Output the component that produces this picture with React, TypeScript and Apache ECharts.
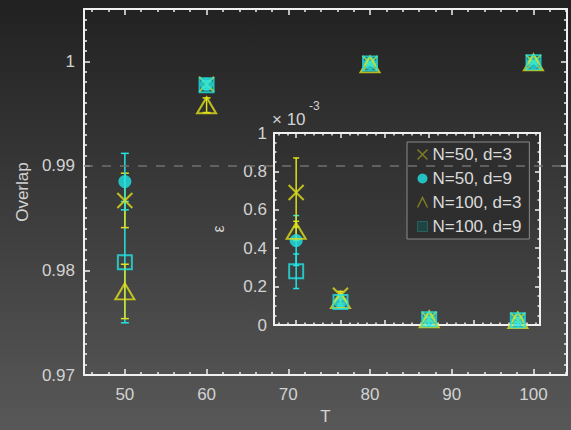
import React, { useEffect, useRef } from 'react';
import * as echarts from 'echarts';

// ---- data ----
const T = [50, 60, 80, 100];
const NAMES = ['N=50, d=3', 'N=50, d=9', 'N=100, d=3', 'N=100, d=9'];

// overlap (main panel)
const overlapN50d3 = [0.9867, 0.9978, 0.9998, 0.9999];
const overlapN50d9 = [0.9885, 0.9978, 0.9998, 0.9999];
const overlapN100d3 = [0.978, 0.9958, 0.9997, 0.9999];
const overlapN100d9 = [0.9808, 0.9977, 0.9998, 0.9999];
const overlapErrN50d3 = [0.0026, 0.0003, 0.0001, 0.0001];
const overlapErrN50d9 = [0.0027, 0.0003, 0.0001, 0.0001];
const overlapErrN100d3 = [0.0026, 0.0007, 0.0001, 0.0001];
const overlapErrN100d9 = [0.0058, 0.0004, 0.0001, 0.0001];

// epsilon, in units of 1e-3 (inset)
const epsN50d3 = [0.69, 0.155, 0.03, 0.025];
const epsN50d9 = [0.44, 0.12, 0.03, 0.025];
const epsN100d3 = [0.49, 0.13, 0.03, 0.025];
const epsN100d9 = [0.28, 0.12, 0.03, 0.025];
const epsErrN50d3 = [0.18, 0.02, 0.01, 0.01];
const epsErrN50d9 = [0.13, 0.02, 0.01, 0.01];
const epsErrN100d3 = [0.05, 0.02, 0.01, 0.01];
const epsErrN100d9 = [0.09, 0.02, 0.01, 0.01];

// tick positions
const mainXMajor = [50, 60, 70, 80, 90, 100];
const mainYMajor = [0.97, 0.98, 0.99, 1];
const insetXMajor = [50, 60, 70, 80, 90, 100];
const insetYMajor = [0, 0.2, 0.4, 0.6, 0.8, 1];

const steps = (from: number, to: number, step: number, skip: number) => {
  const out: number[] = [];
  const n = Math.round((to - from) / step);
  for (let i = 0; i <= n; i++) {
    const v = +(from + i * step).toFixed(6);
    const r = v / skip;
    if (Math.abs(r - Math.round(r)) > 1e-6) out.push(v);
  }
  return out;
};
const mainXMinor = steps(46, 104, 2, 10);
const mainYMinor = steps(0.971, 1.004, 0.001, 0.01);
const insetXMinor = steps(46, 104, 2, 10);
const insetYMinor = steps(0.05, 0.95, 0.05, 0.2);

const YELLOW = '#e0e01c';
const CYAN = '#22e4e4';
const AXIS = '#f0f0f0';
const LABEL = '#d2d2d2';
const FONT = '"Liberation Sans", Arial, sans-serif';

const X_PATH = 'path://M0,0L10,10M10,0L0,10';

type AxisOpts = {
  gridIndex: number;
  position: string;
  min: number;
  max: number;
  ticks: number[];
  len: number;
  line: boolean;
  labels?: boolean;
  formatter?: (v: number) => string;
  margin?: number;
  extra?: Record<string, unknown>;
};

const axis = (o: AxisOpts) => ({
  type: 'value',
  gridIndex: o.gridIndex,
  position: o.position,
  min: o.min,
  max: o.max,
  axisLine: { show: o.line, onZero: false, lineStyle: { color: AXIS, width: 2 } },
  axisTick: {
    show: true,
    inside: true,
    length: o.len,
    customValues: o.ticks,
    lineStyle: { color: AXIS, width: 1.5 },
  },
  axisLabel: {
    show: !!o.labels,
    customValues: o.ticks,
    formatter: o.formatter,
    color: LABEL,
    fontSize: 17,
    fontFamily: FONT,
    margin: o.margin ?? 8,
  },
  splitLine: { show: false },
  ...(o.extra || {}),
});

const errorBars = (
  xAxisIndex: number,
  yAxisIndex: number,
  color: string,
  centers: number[],
  errs: number[],
  cap: number
) => ({
  type: 'custom',
  xAxisIndex,
  yAxisIndex,
  z: 2,
  silent: true,
  data: T.map((t, i) => [t, centers[i] - errs[i], centers[i] + errs[i]]),
  encode: { x: 0, y: [1, 2] },
  renderItem: (_p: unknown, api: any) => {
    const lo = api.coord([api.value(0), api.value(1)]);
    const hi = api.coord([api.value(0), api.value(2)]);
    const style = { stroke: color, lineWidth: 1.5 };
    return {
      type: 'group',
      children: [
        { type: 'line', shape: { x1: lo[0], y1: lo[1], x2: hi[0], y2: hi[1] }, style },
        { type: 'line', shape: { x1: lo[0] - cap, y1: lo[1], x2: lo[0] + cap, y2: lo[1] }, style },
        { type: 'line', shape: { x1: hi[0] - cap, y1: hi[1], x2: hi[0] + cap, y2: hi[1] }, style },
      ],
    };
  },
});

const markers = (
  xAxisIndex: number,
  yAxisIndex: number,
  values: number[][],
  extraFirst?: Record<string, unknown>
) => {
  const styles = [
    { symbol: X_PATH, symbolSize: 15, itemStyle: { color: 'none', borderColor: YELLOW, borderWidth: 2 } },
    { symbol: 'circle', symbolSize: 13, itemStyle: { color: CYAN } },
    { symbol: 'triangle', symbolSize: [19, 16], itemStyle: { color: 'none', borderColor: YELLOW, borderWidth: 2 } },
    { symbol: 'rect', symbolSize: 14, itemStyle: { color: 'none', borderColor: CYAN, borderWidth: 2 } },
  ];
  return values.map((vals, k) => ({
    type: 'scatter',
    name: NAMES[k],
    xAxisIndex,
    yAxisIndex,
    z: 3,
    silent: true,
    data: T.map((t, i) => [t, vals[i]]),
    ...styles[k],
    ...(k === 0 && extraFirst ? extraFirst : {}),
  }));
};

export default function App() {
  const ref = useRef<HTMLDivElement>(null);

  useEffect(() => {
    if (!ref.current) return;
    const chart = echarts.init(ref.current, undefined, { renderer: 'svg' });

    const mainMin = 45;
    const mainMax = 104.1;
    const insetMin = 45;
    const insetMax = 105;

    const option = {
      animation: false,
      backgroundColor: new echarts.graphic.LinearGradient(0, 0, 0, 1, [
        { offset: 0, color: '#212121' },
        { offset: 1, color: '#585858' },
      ]),
      textStyle: { fontFamily: FONT },
      grid: [
        { left: 84, top: 9, width: 483, height: 371, show: false },
        {
          left: 274,
          top: 133,
          width: 266,
          height: 192,
          show: true,
          backgroundColor: 'rgba(0,0,0,0.07)',
          borderWidth: 0,
        },
      ],
      xAxis: [
        axis({
          gridIndex: 0, position: 'bottom', min: mainMin, max: mainMax, ticks: mainXMajor, len: 6,
          line: true, labels: true, margin: 11, formatter: (v: number) => String(v),
          extra: {
            name: 'T', nameLocation: 'middle', nameGap: 31,
            nameTextStyle: { color: LABEL, fontSize: 17, fontFamily: FONT },
          },
        }),
        axis({ gridIndex: 0, position: 'bottom', min: mainMin, max: mainMax, ticks: mainXMinor, len: 3, line: false }),
        axis({ gridIndex: 0, position: 'top', min: mainMin, max: mainMax, ticks: mainXMajor, len: 6, line: true }),
        axis({ gridIndex: 0, position: 'top', min: mainMin, max: mainMax, ticks: mainXMinor, len: 3, line: false }),
        axis({ gridIndex: 1, position: 'bottom', min: insetMin, max: insetMax, ticks: insetXMajor, len: 5, line: true }),
        axis({ gridIndex: 1, position: 'bottom', min: insetMin, max: insetMax, ticks: insetXMinor, len: 2.5, line: false }),
        axis({ gridIndex: 1, position: 'top', min: insetMin, max: insetMax, ticks: insetXMajor, len: 5, line: true }),
        axis({ gridIndex: 1, position: 'top', min: insetMin, max: insetMax, ticks: insetXMinor, len: 2.5, line: false }),
      ],
      yAxis: [
        axis({
          gridIndex: 0, position: 'left', min: 0.97, max: 1.005, ticks: mainYMajor, len: 6,
          line: true, labels: true, margin: 9,
          formatter: (v: number) => (Math.abs(v - 1) < 1e-9 ? '1' : v.toFixed(2)),
          extra: {
            name: 'Overlap', nameLocation: 'middle', nameGap: 53, nameRotate: 90,
            nameTextStyle: { color: LABEL, fontSize: 17, fontFamily: FONT },
          },
        }),
        axis({ gridIndex: 0, position: 'left', min: 0.97, max: 1.005, ticks: mainYMinor, len: 3, line: false }),
        axis({ gridIndex: 0, position: 'right', min: 0.97, max: 1.005, ticks: mainYMajor, len: 6, line: true }),
        axis({ gridIndex: 0, position: 'right', min: 0.97, max: 1.005, ticks: mainYMinor, len: 3, line: false }),
        axis({
          gridIndex: 1, position: 'left', min: 0, max: 1, ticks: insetYMajor, len: 5,
          line: true, labels: true, margin: 7,
          formatter: (v: number) => (v === 0 ? '0' : Math.abs(v - 1) < 1e-9 ? '1' : v.toFixed(1)),
          extra: {
            name: 'ε', nameLocation: 'middle', nameGap: 48, nameRotate: 90,
            nameTextStyle: { color: LABEL, fontSize: 16, fontFamily: FONT },
          },
        }),
        axis({ gridIndex: 1, position: 'left', min: 0, max: 1, ticks: insetYMinor, len: 2.5, line: false }),
        axis({ gridIndex: 1, position: 'right', min: 0, max: 1, ticks: insetYMajor, len: 5, line: true }),
        axis({ gridIndex: 1, position: 'right', min: 0, max: 1, ticks: insetYMinor, len: 2.5, line: false }),
      ],
      legend: {
        orient: 'vertical',
        left: 407,
        top: 142,
        padding: [4, 8, 4, 8],
        itemGap: 7,
        itemWidth: 10,
        itemHeight: 10,
        backgroundColor: 'rgba(46,46,46,0.92)',
        borderColor: '#8a8a8a',
        borderWidth: 1,
        selectedMode: false,
        textStyle: { color: '#dadada', fontSize: 17, fontFamily: FONT },
        data: [
          { name: NAMES[0], icon: X_PATH, itemStyle: { color: 'none', borderColor: '#8e8e22', borderWidth: 1.5 } },
          { name: NAMES[1], icon: 'circle', itemStyle: { color: CYAN, borderWidth: 0 } },
          {
            name: NAMES[2],
            icon: 'path://M0,10L5,0L10,10',
            itemStyle: { color: 'none', borderColor: '#8e8e22', borderWidth: 1.5 },
          },
          { name: NAMES[3], icon: 'rect', itemStyle: { color: '#1c4a4a', borderColor: '#2a6a6a', borderWidth: 1 } },
        ],
      },
      graphic: [
        {
          type: 'text',
          x: 272,
          y: 111,
          style: { text: '× 10', fill: LABEL, fontSize: 17, fontFamily: FONT },
        },
        {
          type: 'text',
          x: 309,
          y: 100,
          style: { text: '-3', fill: LABEL, fontSize: 12, fontFamily: FONT },
        },
      ],
      series: [
        // main panel
        errorBars(0, 0, CYAN, overlapN100d9, overlapErrN100d9, 4),
        errorBars(0, 0, YELLOW, overlapN100d3, overlapErrN100d3, 4),
        errorBars(0, 0, YELLOW, overlapN50d3, overlapErrN50d3, 4),
        errorBars(0, 0, CYAN, overlapN50d9, overlapErrN50d9, 4),
        ...markers(0, 0, [overlapN50d3, overlapN50d9, overlapN100d3, overlapN100d9], {
          markLine: {
            silent: true,
            symbol: 'none',
            label: { show: false },
            lineStyle: { color: '#707070', type: [9, 9], width: 1.5 },
            data: [{ yAxis: 0.99 }],
          },
        }),
        // inset
        errorBars(4, 4, CYAN, epsN100d9, epsErrN100d9, 3),
        errorBars(4, 4, CYAN, epsN50d9, epsErrN50d9, 3),
        errorBars(4, 4, YELLOW, epsN100d3, epsErrN100d3, 3),
        errorBars(4, 4, YELLOW, epsN50d3, epsErrN50d3, 3),
        ...markers(4, 4, [epsN50d3, epsN50d9, epsN100d3, epsN100d9]),
      ],
    };

    chart.setOption(option as any);
    return () => chart.dispose();
  }, []);

  return (
    <div
      ref={ref}
      style={{ position: 'absolute', left: 0, top: 0, width: 571, height: 430 }}
    />
  );
}
